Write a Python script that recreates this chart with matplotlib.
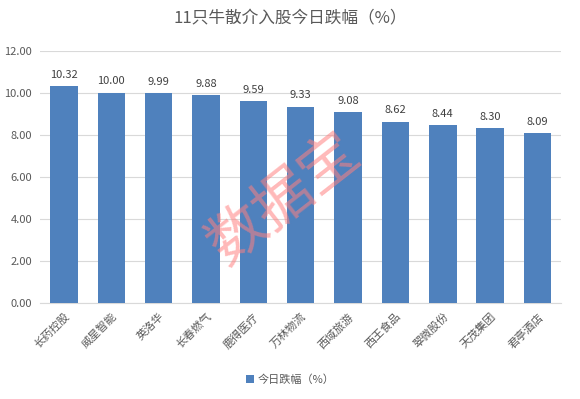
import matplotlib.pyplot as plt

plt.rcParams['font.family'] = ['Noto Sans CJK SC', 'DejaVu Sans']

stocks = ['长药控股', '威星智能', '英洛华', '长春燃气', '鹿得医疗', '万林物流',
          '西域旅游', '西王食品', '翠微股份', '天茂集团', '君亭酒店']
pct = [10.32, 10.00, 9.99, 9.88, 9.59, 9.33, 9.08, 8.62, 8.44, 8.30, 8.09]
yticks = [0, 2, 4, 6, 8, 10, 12]

fig = plt.figure(figsize=(5.8, 3.99), dpi=100)
ax = fig.add_axes([0.0695, 0.241, 0.898, 0.632])

x = list(range(len(stocks)))
bars = ax.bar(x, pct, width=0.58, color='#4f81bd', label='今日跌幅（%）', zorder=3)
for xi, v in zip(x, pct):
    ax.text(xi, v + 0.3, f'{v:.2f}', ha='center', va='bottom', fontsize=8, color='#404040')

ax.set_ylim(0, 12)
ax.set_xlim(-0.5, len(stocks) - 0.5)
ax.set_yticks(yticks)
ax.set_yticklabels([f'{t:.2f}' for t in yticks], fontsize=8, color='#595959')
ax.set_xticks(x)
ax.set_xticklabels(stocks, rotation=45, ha='right', rotation_mode='anchor',
                   fontsize=8, color='#595959')
ax.tick_params(length=0, pad=6)
ax.grid(axis='y', color='#d9d9d9', linewidth=0.8, zorder=0)
for s in ['top', 'right', 'left']:
    ax.spines[s].set_visible(False)
ax.spines['bottom'].set_color('#d9d9d9')

fig.text(0.5, 0.953, '11只牛散介入股今日跌幅（%）', ha='center', va='center',
         fontsize=12, color='#595959')
fig.legend(handles=[bars], loc='center', bbox_to_anchor=(0.5, 0.048), frameon=False,
           fontsize=8, handlelength=0.7, handleheight=0.7, handletextpad=0.3,
           labelcolor='#595959')

fig.text(0.491, 0.5, '数据宝', rotation=38, fontsize=42, color='#ff8080', alpha=0.55,
         ha='center', va='center', zorder=10)

fig.savefig('out.png', dpi=100)
